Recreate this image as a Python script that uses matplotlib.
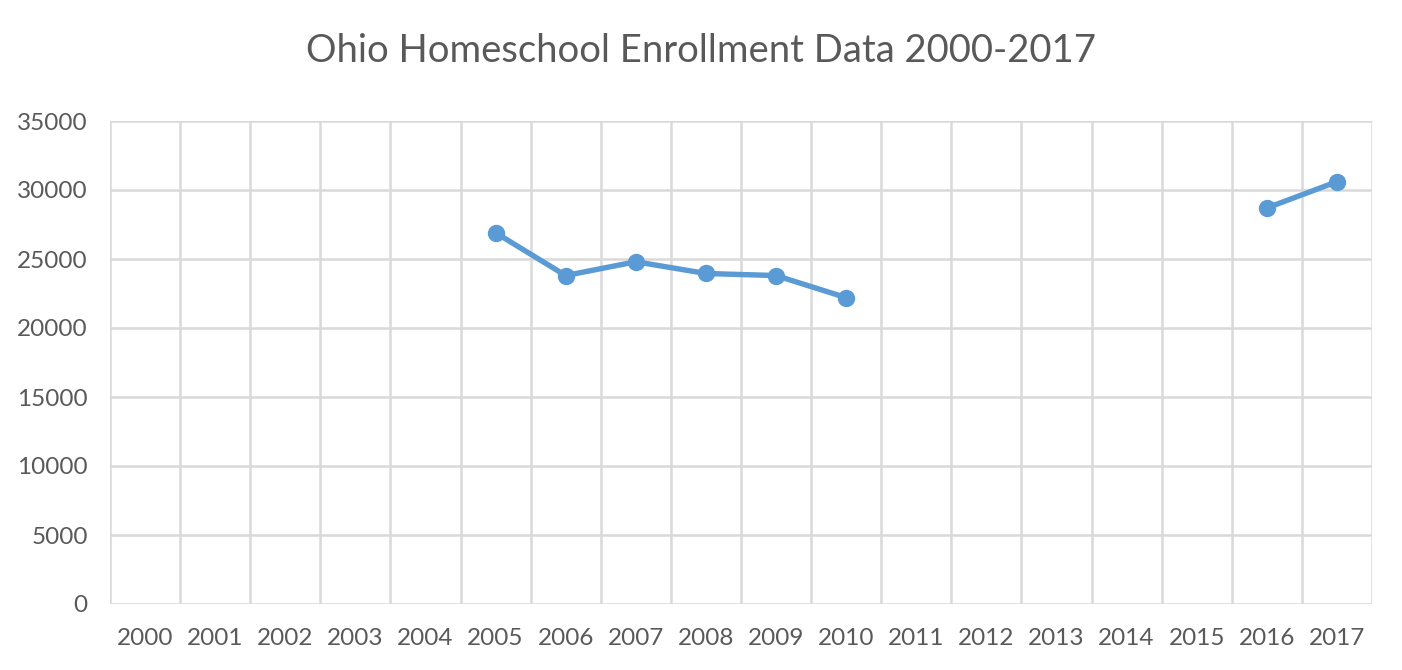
import matplotlib
matplotlib.use("Agg")
import matplotlib.pyplot as plt
import numpy as np

plt.rcParams["font.family"] = ["Lato", "DejaVu Sans"]

years = [str(y) for y in range(2000, 2018)]
enrollment = [np.nan, np.nan, np.nan, np.nan, np.nan,
              26900, 23800, 24800, 23950, 23800, 22200,
              np.nan, np.nan, np.nan, np.nan, np.nan,
              28700, 30600]
y_ticks = [0, 5000, 10000, 15000, 20000, 25000, 30000, 35000]

text_color = "#595959"
grid_color = "#D9D9D9"
line_color = "#5B9BD5"

fig = plt.figure(figsize=(14.02, 6.70), dpi=100)
ax = fig.add_axes([110 / 1402, 66 / 670, 1262 / 1402, 483 / 670])

x = np.arange(len(years))
ax.plot(x, enrollment, color=line_color, linewidth=3.9, marker="o",
        markersize=11.5, solid_capstyle="round", zorder=3)

ax.set_xlim(-0.5, len(years) - 0.5)
ax.set_ylim(0, 35000)
ax.set_xticks(x)
ax.set_xticklabels(years)
ax.set_xticks(np.arange(len(years) + 1) - 0.5, minor=True)
ax.set_yticks(y_ticks)
ax.set_yticklabels([str(v) for v in y_ticks])

ax.grid(True, which="minor", axis="x", color=grid_color, linewidth=1.8)
ax.grid(True, which="major", axis="y", color=grid_color, linewidth=1.8)
ax.set_axisbelow(True)
for s in ax.spines.values():
    s.set_visible(False)
ax.tick_params(which="both", length=0, colors=text_color, labelsize=17.5)
ax.tick_params(axis="x", pad=17)
ax.tick_params(axis="y", pad=16)

fig.suptitle("Ohio Homeschool Enrollment Data 2000-2017", y=0.95,
             fontsize=27.5, color=text_color)

fig.savefig("out.png", dpi=100, facecolor="white")
